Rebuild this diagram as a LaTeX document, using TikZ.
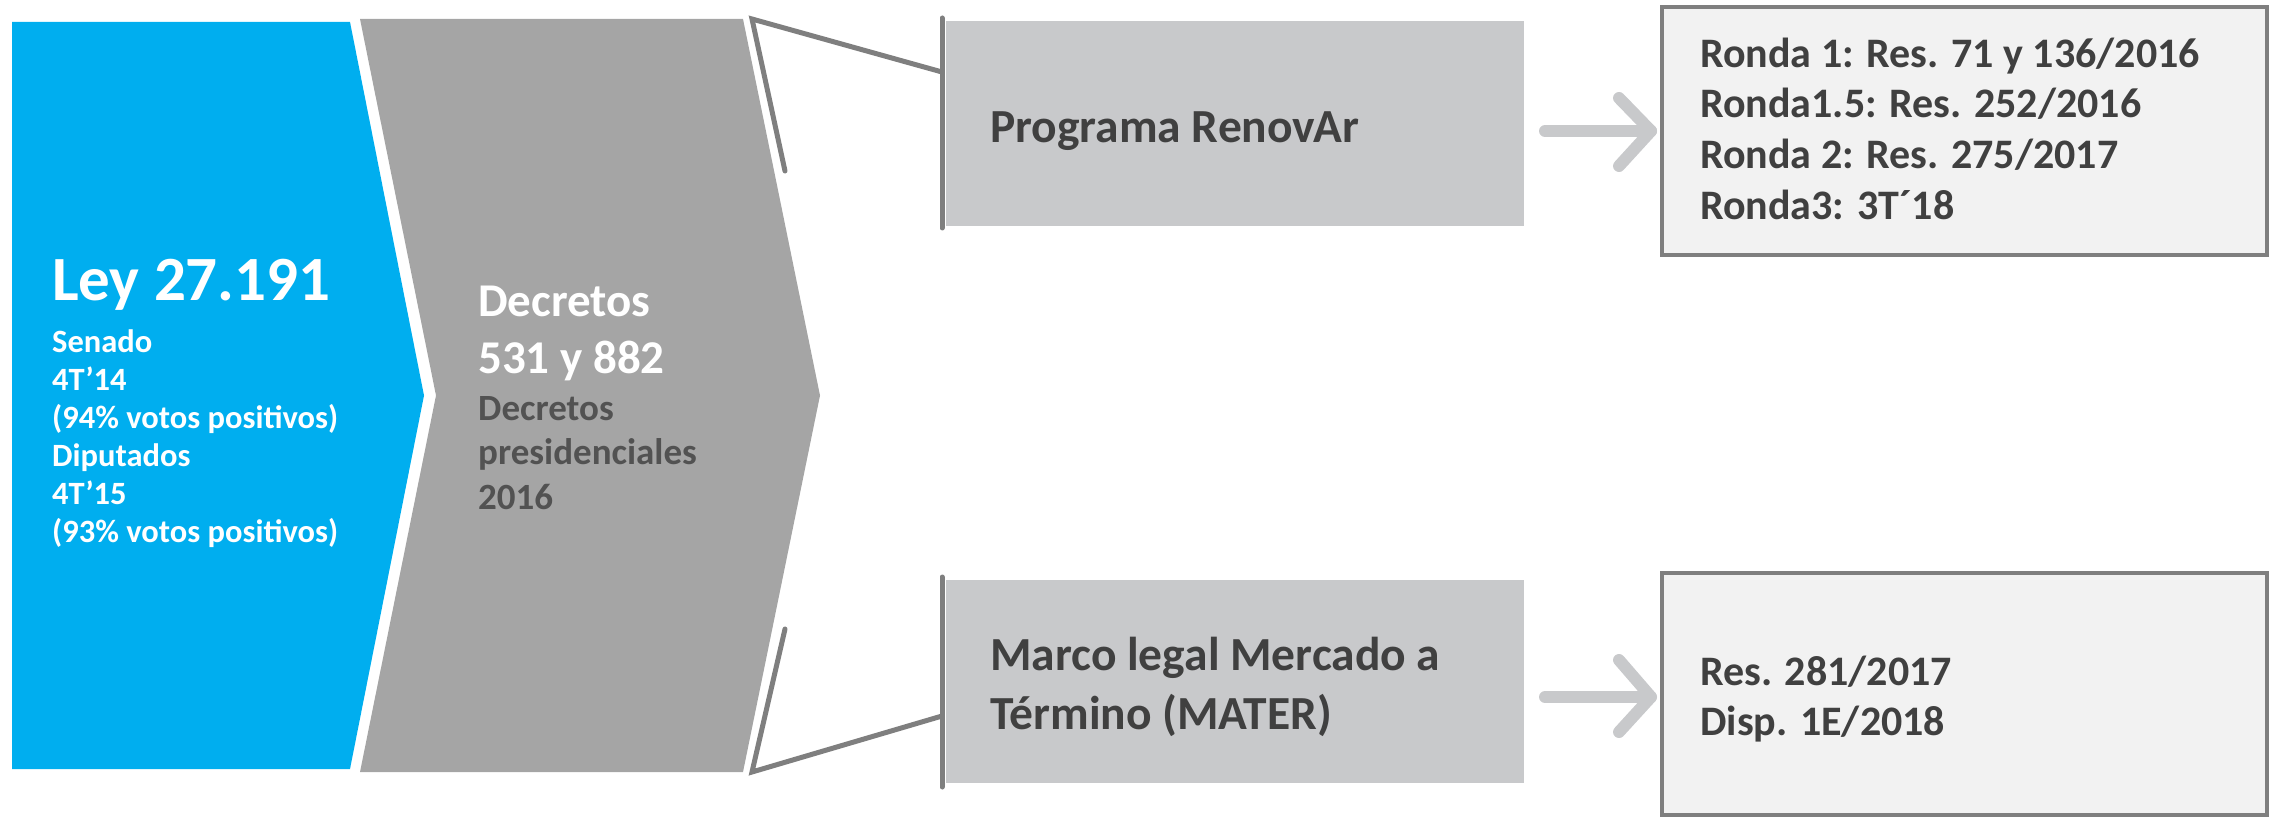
\documentclass[tikz,border=0pt]{standalone}
\usepackage{fontspec}
\setmainfont{Carlito}
\usetikzlibrary{calc}
\definecolor{blueA}{HTML}{00AEEF}
\definecolor{grayA}{HTML}{A5A5A5}
\definecolor{boxgray}{HTML}{C8C9CB}
\definecolor{linegray}{HTML}{7F7F7F}
\definecolor{txtdark}{HTML}{404040}
\definecolor{txtmid}{HTML}{525252}
\definecolor{paleA}{HTML}{F2F2F2}
\tikzset{
  conn/.style={draw=linegray, line width=5pt, line cap=round, line join=miter},
  progbox/.style={fill=boxgray, inner sep=0pt, anchor=north west, minimum width=578pt},
  resbox/.style={draw=linegray, line width=4pt, fill=paleA, inner sep=0pt, anchor=north west, minimum width=605pt},
  txt/.style={inner sep=0pt, anchor=base west, align=left, font=\bfseries},
  arrowline/.style={draw=boxgray, line width=12pt, line cap=round, line join=round}
}
\begin{document}
\begin{tikzpicture}[x=1pt,y=-1pt]
\useasboundingbox (0,0) rectangle (2277,818);
% chevrons
\path[fill=blueA] (12,22) -- (350,22) -- (424,395.5) -- (350,769) -- (12,769) -- cycle;
\path[fill=grayA] (360,19) -- (743,19) -- (820,395.5) -- (743,772) -- (360,772) -- (436,395.5) -- cycle;
% (base anchor of a multi-line node = baseline of its last line)
\node[txt, text=white, font=\bfseries\fontsize{63}{66}\selectfont] (ley) at (52,300) {Ley 27.191};
\node[txt, text=white, font=\bfseries\fontsize{32.5}{38}\selectfont] (leyinfo) at (52,542)
  {Senado\\4T’14\\(94\% votos positivos)\\Diputados\\4T’15\\(93\% votos positivos)};
\node[txt, text=white, font=\bfseries\fontsize{47}{57}\selectfont] (dec) at (478,373) {Decretos\\531 y 882};
\node[txt, text=txtmid, font=\bfseries\fontsize{37}{44.5}\selectfont] (decinfo) at (478,509)
  {Decretos\\presidenciales\\2016};
% program boxes
\node[progbox, minimum height=205pt] (prog) at (946,21) {};
\node[progbox, minimum height=203pt] (mater) at (946,580) {};
\node[txt, text=txtdark, font=\bfseries\fontsize{47.5}{50}\selectfont] (progtxt) at (990,143) {Programa RenovAr};
\node[txt, text=txtdark, font=\bfseries\fontsize{47.5}{59}\selectfont] (matertxt) at (990,729)
  {Marco legal Mercado a\\Término (MATER)};
% left edge lines of the program boxes
\coordinate (pt1) at (942,18);
\coordinate (pb1) at (942,228);
\coordinate (pt2) at (942,577);
\coordinate (pb2) at (942,787);
\draw[conn] (pt1) -- (pb1);
\draw[conn] (pt2) -- (pb2);
% brackets
\coordinate (c1) at (752,19);
\coordinate (c1b) at (785,171);
\coordinate (c1e) at (942,72);
\coordinate (c2) at (752,772);
\coordinate (c2b) at (785,629);
\coordinate (c2e) at (942,716);
\draw[conn] (c1b) -- (c1) -- (c1e);
\draw[conn] (c2b) -- (c2) -- (c2e);
% result boxes
\node[resbox, minimum height=248pt] (ronda) at (1660,5) {};
\node[resbox, minimum height=242pt] (res) at (1660,571) {};
\node[txt, text=txtdark, font=\bfseries\fontsize{42}{50.8}\selectfont] (rondatxt) at (1700,219.5)
  {Ronda 1: Res. 71 y 136/2016\\Ronda1.5: Res. 252/2016\\Ronda 2: Res. 275/2017\\Ronda3: 3T´18};
\node[txt, text=txtdark, font=\bfseries\fontsize{42}{49.5}\selectfont] (restxt) at (1700,735)
  {Res. 281/2017\\Disp. 1E/2018};
% arrows
\coordinate (t1) at ($(ronda.west)+(-9,0)$);
\coordinate (t2) at ($(res.west)+(-9,3)$);
\draw[arrowline] ($(t1)+(-106,0)$) -- (t1);
\draw[arrowline] ($(t1)+(-32,-33)$) -- (t1) -- ($(t1)+(-32,35)$);
\draw[arrowline] ($(t2)+(-106,0)$) -- (t2);
\draw[arrowline] ($(t2)+(-32,-37)$) -- (t2) -- ($(t2)+(-32,35)$);
\end{tikzpicture}
\end{document}
